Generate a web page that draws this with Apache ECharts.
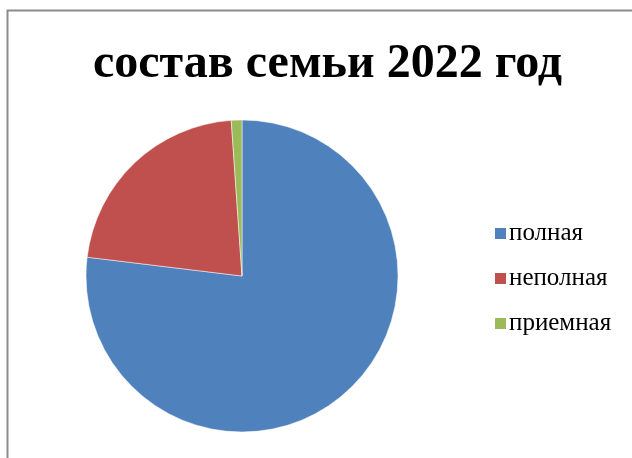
<!DOCTYPE html>
<html>
<head>
<meta charset="utf-8">
<script src="https://cdn.jsdelivr.net/npm/echarts@6/dist/echarts.min.js"></script>
<style>html,body{margin:0;padding:0;background:#fff;}#c{width:632px;height:458px;}</style>
</head>
<body>
<div id="c"></div>
<script>
const titleText = 'состав семьи 2022 год';
const categories = ['полная', 'неполная', 'приемная'];
const values = [70, 20, 1];
const colors = ['#4F81BD', '#C0504D', '#9BBB59'];

const chart = echarts.init(document.getElementById('c'), null, {renderer: 'canvas'});
chart.setOption({
  animation: false,
  backgroundColor: '#fff',
  graphic: [{
    type: 'rect',
    shape: {x: 7.5, y: 10.5, width: 640, height: 470},
    style: {fill: 'none', stroke: '#8c8c8c', lineWidth: 2},
    silent: true
  }],
  title: {
    text: titleText,
    left: 88,
    top: 36,
    textStyle: {fontFamily: 'Liberation Serif', fontWeight: 'bold', fontSize: 48, color: '#000'}
  },
  legend: {
    orient: 'vertical',
    left: 488,
    top: 216,
    icon: 'rect',
    itemWidth: 13,
    itemHeight: 13,
    itemGap: 20,
    data: categories,
    textStyle: {fontFamily: 'Liberation Serif', fontSize: 25, color: '#000', padding: [0, 0, 0, -3]}
  },
  series: [{
    type: 'pie',
    center: [242, 276],
    radius: 156,
    startAngle: 90,
    clockwise: true,
    label: {show: false},
    labelLine: {show: false},
    itemStyle: {borderColor: '#fff', borderWidth: 0.5},
    emphasis: {disabled: true},
    data: categories.map((c, i) => ({name: c, value: values[i], itemStyle: {color: colors[i]}}))
  }]
});
</script>
</body>
</html>
